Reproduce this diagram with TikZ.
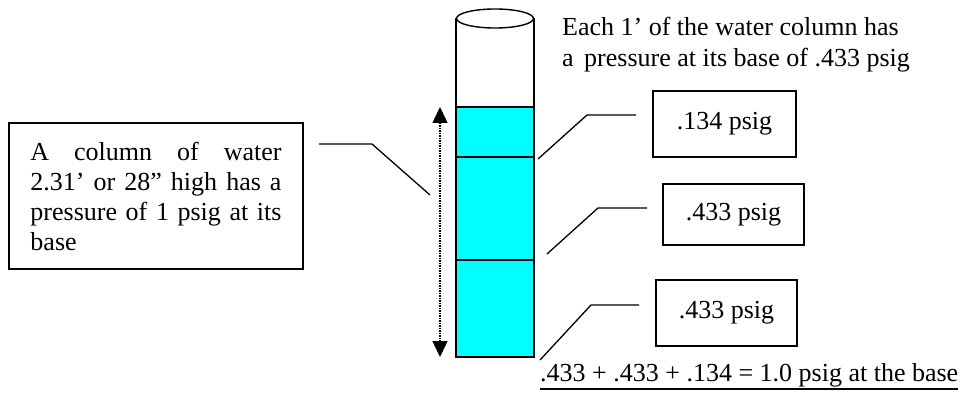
\documentclass[tikz,border=0pt]{standalone}
\usepackage{fontspec}
\setmainfont{Liberation Serif}
\usetikzlibrary{arrows.meta}
\definecolor{water}{RGB}{0,255,255}
\newcommand\jline[1]{\makebox[251pt][s]{\spaceskip=0pt\xspaceskip=0pt\relax #1}}
\begin{document}
\begin{tikzpicture}[x=1pt,y=-1pt,
  txt/.style={inner sep=0pt,font=\fontsize{26}{30}\selectfont},
  valbox/.style={draw,line width=1.3pt,inner sep=0pt,font=\fontsize{26}{30}\selectfont},
  conn/.style={line width=1.3pt},
  wall/.style={line width=1.4pt}]
\useasboundingbox (0,0) rectangle (962,393);
% cylinder
\fill[water] (456,107) rectangle (534,357);
\draw[wall] (456,18.5) -- (456,357) -- (534,357) -- (534,18.5);
\draw[wall] (456,107) -- (534,107);
\draw[wall] (456,157) -- (534,157);
\draw[wall] (456,260) -- (534,260);
\draw[wall,fill=white] (495,18.5) ellipse [x radius=38.5pt, y radius=9.5pt];
% height arrow
\coordinate (atop) at (440,107);
\coordinate (abot) at (440,357);
\draw[line width=1.5pt,densely dotted,{Triangle[width=15pt,length=16pt]}-{Triangle[width=15pt,length=16pt]}] (atop) -- (abot);
% left box
\node[draw,line width=1.3pt,txt,inner xsep=21.5pt,inner ysep=0pt,minimum width=294pt,minimum height=146pt,text width=251pt,align=left] (lbox) at (156,196)
 {\jline{A column of water}\\\jline{2.31’ or 28” high has a}\\\jline{pressure of 1 psig at its}\\base};
\coordinate (l1) at (319,144);
\coordinate (l2) at (372,144);
\coordinate (l3) at (430,195);
\draw[conn] (l1) -- (l2) -- (l3);
% top text
\node[txt,anchor=base west] (top1) at (562,36) {Each 1’ of the water column has};
\node[txt,anchor=base west] (top2) at (562,67) {a\hspace{4pt} pressure at its base of .433 psig};
% value boxes
\node[valbox,minimum width=143pt,minimum height=66pt] (b1) at (724.5,124) {.134 psig};
\node[valbox,minimum width=141pt,minimum height=61pt] (b2) at (733.5,214.5) {.433 psig};
\node[valbox,minimum width=141pt,minimum height=66pt] (b3) at (726.5,313) {.433 psig};
% connectors
\coordinate (p1a) at (538,159); \coordinate (p1b) at (587,115); \coordinate (p1c) at (636,115);
\coordinate (p2a) at (547,254); \coordinate (p2b) at (598,208); \coordinate (p2c) at (647,208);
\coordinate (p3a) at (540,360); \coordinate (p3b) at (591,305); \coordinate (p3c) at (639,305);
\draw[conn] (p1a) -- (p1b) -- (p1c);
\draw[conn] (p2a) -- (p2b) -- (p2c);
\draw[conn] (p3a) -- (p3b) -- (p3c);
% sum
\node[txt,anchor=base west] (sum) at (540,381) {.433 + .433 + .134 = 1.0 psig at the base};
\draw[line width=1.6pt] ([yshift=-8pt]sum.base west) -- ([yshift=-8pt]sum.base east);
\end{tikzpicture}
\end{document}
